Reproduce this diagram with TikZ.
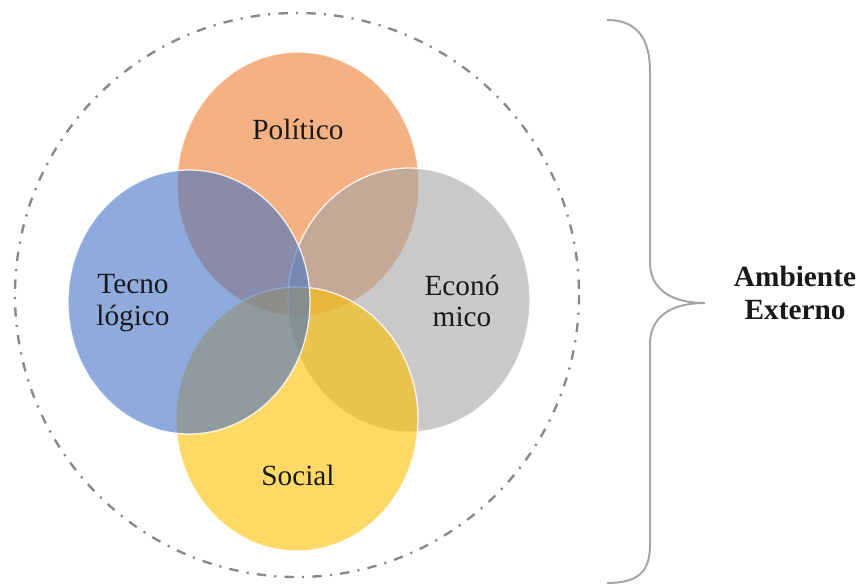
\documentclass[tikz,border=0pt]{standalone}
\usepackage{fontspec}
\setmainfont{Liberation Serif}
\usepackage{tikz}
\usepackage{color}
\definecolor{Office-1}{RGB}{237,125,49}
\definecolor{Office-2}{RGB}{68,114,196}
\definecolor{Office-3}{RGB}{165,165,165}
\definecolor{Office-4}{RGB}{255,192,0}
\definecolor{Line-1}{RGB}{135,135,142}
\definecolor{Line-2}{RGB}{165,165,165}
\begin{document}
\begin{tikzpicture}[x=0.03cm, y=-0.03cm,
  area/.style={fill opacity=0.6, draw=white, draw opacity=0.85, line width=1.1pt},
  lbl/.style={text=black!90, font=\fontsize{25}{27}\selectfont, align=center, inner sep=0pt}]
  \useasboundingbox (0,0) rectangle (858,586);

  \draw[Line-1, line width=2pt, dash pattern=on 8pt off 7pt on 1.8pt off 7pt] (297,295) circle (282);

  % drawn clockwise from the top
  \path[area, fill=Office-1] (298,184) ellipse (121 and 132);
  \path[area, fill=Office-3] (409,300) ellipse (121 and 132);
  \path[area, fill=Office-4] (297,419) ellipse (121 and 132);
  \path[area, fill=Office-2] (189,302) ellipse (121 and 132);

  \node[lbl] (pol) at (298,129) {Político};
  \node[lbl] (tec) at (133,303) {Tecno\\lógico};
  \node[lbl] (eco) at (462,301) {Econó\\mico};
  \node[lbl] (soc) at (298,475) {Social};

  \draw[Line-2, line width=1.7pt] (607,20) .. controls (638,20) and (650,40) .. (650,71) -- (650,262)
    .. controls (650,290) and (672,303) .. (705,303)
    .. controls (672,303) and (650,316) .. (650,344) -- (650,545)
    .. controls (650,572) and (638,583) .. (607,583);

  \node[lbl, font=\bfseries\fontsize{25}{28}\selectfont] (amb) at (795,293) {Ambiente\\Externo};
\end{tikzpicture}
\end{document}
